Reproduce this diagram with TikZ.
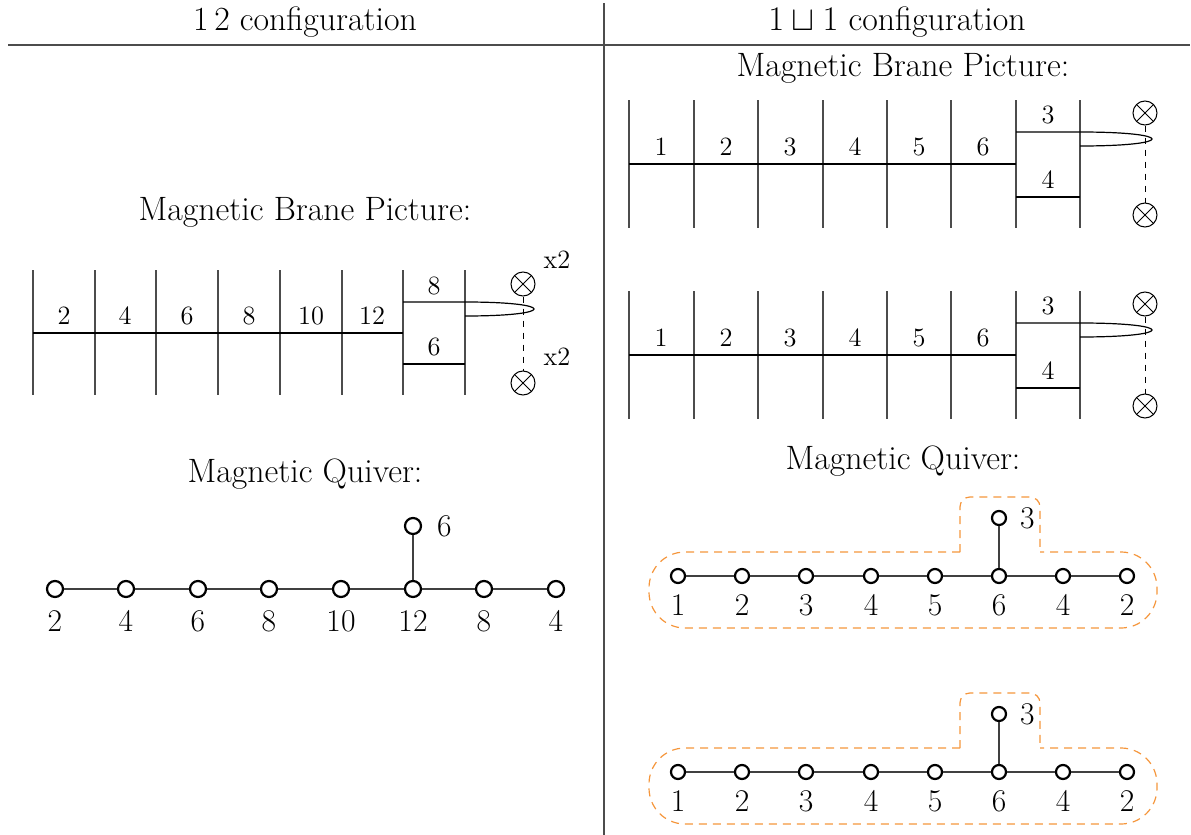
\documentclass[tikz,border=0pt]{standalone}
\usepackage{amsmath,amssymb}
\usepackage{fontspec}
\usetikzlibrary{positioning}

\definecolor{loopcol}{RGB}{245,150,60}

\tikzset{
  brane/.style={black!70, line width=0.6pt},
  seg/.style={black, line width=0.6pt},
  xnode/.style={circle, draw, line width=0.5pt, inner sep=0pt, minimum size=12pt,
    path picture={\draw[line width=0.5pt]
      (path picture bounding box.north west) -- (path picture bounding box.south east)
      (path picture bounding box.north east) -- (path picture bounding box.south west);}},
  qnode/.style={circle, draw, line width=1.1pt, fill=white, inner sep=0pt, minimum size=8pt},
  rnode/.style={qnode, minimum size=7pt},
  qedge/.style={black!75, line width=0.6pt},
  qlab/.style={font=\fontsize{15.8}{19}\selectfont},
  blab/.style={font=\fontsize{13.2}{16}\selectfont},
  title/.style={font=\fontsize{16.9}{20}\selectfont},
  head/.style={title, inner sep=1pt},
  loopline/.style={loopcol, line width=0.6pt, dash pattern=on 4pt off 3pt},
}

\begin{document}
\begin{tikzpicture}[x=0.5pt, y=-0.5pt]
  \useasboundingbox (0,0) rectangle (1191,835);

  % frame
  \draw[black!70, line width=0.6pt] (8,45) -- (1190,45);
  \draw[black!70, line width=0.6pt] (604,3) -- (604,835);
  \node[head] (hl) at (305,22) {1\,2 configuration};
  \node[head] (hr) at (897,22) {$1 \sqcup 1$ configuration};

  % ---- left: brane picture
  \node[title] (lbt) at (305,212) {Magnetic Brane Picture:};
  \foreach \x in {33,95,156,218,280,342,403,465}
    \draw[brane] (\x,270) -- (\x,395);
  \draw[seg] (33,333) -- (403,333);
  \foreach \x/\n in {64/2,125/4,187/6,249/8,311/10,372/12}
    \node[blab] at (\x,316) {\n};
  \draw[seg] (403,302) -- (465,302) .. controls (557,302) and (557,316) .. (465,316);
  \draw[seg] (403,364) -- (465,364);
  \node[blab] at (434,286) {8};
  \node[blab] at (434,347) {6};
  \node[xnode] (lxa) at (523,284) {};
  \node[xnode] (lxb) at (523,383) {};
  \draw[dashed, line width=0.5pt] (lxa) -- (lxb);
  \node[blab] at (557,260) {x2};
  \node[blab] at (557,357) {x2};

  % ---- left: quiver
  \node[title] (lqt) at (305,474) {Magnetic Quiver:};
  \foreach \i/\x/\n in {1/55/2,2/126/4,3/198/6,4/269/8,5/341/10,6/413/12,7/484/8,8/556/4} {
    \node[qnode] (l\i) at (\x,589) {};
    \node[qlab] at (\x,621) {\n};
  }
  \node[qnode] (lt) at (413,526) {};
  \node[qlab, right=4pt of lt] {6};
  \foreach \i [evaluate=\i as \j using int(\i+1)] in {1,...,7}
    \draw[qedge] (l\i) -- (l\j);
  \draw[qedge] (l6) -- (lt);

  % ---- right: brane pictures
  \node[title] (rbt) at (903,68) {Magnetic Brane Picture:};
  \foreach \k/\dy in {a/0,b/191} {
    \begin{scope}[yshift=-\dy*0.5pt]
      \foreach \x in {629,694,758,823,887,951,1016,1080}
        \draw[brane] (\x,100) -- (\x,228);
      \draw[seg] (629,164) -- (1016,164);
      \foreach \x/\n in {661/1,726/2,790/3,855/4,919/5,983/6}
        \node[blab] at (\x,147) {\n};
      \draw[seg] (1016,132) -- (1080,132) .. controls (1176,132) and (1176,146) .. (1080,146);
      \draw[seg] (1016,197) -- (1080,197);
      \node[blab] at (1048,115) {3};
      \node[blab] at (1048,180) {4};
      \node[xnode] (rx\k1) at (1145,113) {};
      \node[xnode] (rx\k2) at (1145,215) {};
      \draw[dashed, line width=0.5pt] (rx\k1) -- (rx\k2);
    \end{scope}
  }

  % ---- right: quivers
  \node[title] (rqt) at (903,461) {Magnetic Quiver:};
  \foreach \k/\dy in {a/0,b/196} {
    \begin{scope}[yshift=-\dy*0.5pt]
      \draw[loopline, rounded corners=5pt]
        (960,552) -- (960,497) -- (1040,497) -- (1040,552);
      \draw[loopline, rounded corners=18pt]
        (960,552) -- (649,552) -- (649,628) -- (1157,628) -- (1157,552) -- (1040,552);
      \foreach \i/\x/\n in {1/678/1,2/742/2,3/806/3,4/871/4,5/935/5,6/999/6,7/1063/4,8/1127/2} {
        \node[rnode] (r\k\i) at (\x,576) {};
        \node[qlab] at (\x,605) {\n};
      }
      \node[rnode] (r\k t) at (999,518) {};
      \node[qlab, right=3pt of r\k t] {3};
      \foreach \i [evaluate=\i as \j using int(\i+1)] in {1,...,7}
        \draw[qedge] (r\k\i) -- (r\k\j);
      \draw[qedge] (r\k6) -- (r\k t);
    \end{scope}
  }
\end{tikzpicture}
\end{document}
